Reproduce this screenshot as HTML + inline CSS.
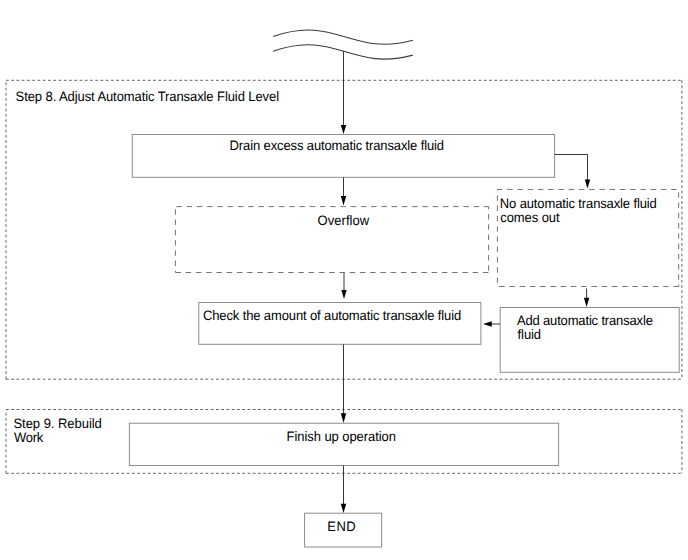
<!DOCTYPE html>
<html><head><meta charset="utf-8">
<style>
html,body{margin:0;padding:0;background:#fff;}
body{width:688px;height:560px;position:relative;overflow:hidden;}
svg{position:absolute;left:0;top:0;}
text{font-family:"Liberation Sans",sans-serif;font-size:13px;fill:#000;text-rendering:geometricPrecision;}
</style></head><body>
<svg width="688" height="560" viewBox="0 0 688 560">
<g fill="none" stroke="#3a3a3a" stroke-width="1.1">
<path d="M273.14,36.49 C335.8,14.48 351.16,56.96 412.88,40.33"/>
<path d="M273.14,51.29 C335.8,29.28 351.16,71.76 412.88,55.13"/>
</g>
<g fill="none" stroke="#646464" stroke-width="1" stroke-dasharray="2.8 2.45"><path d="M6.0,80.3 H681.9" stroke-dashoffset="0"/><path d="M681.9,80.3 V379.2" stroke-dashoffset="0"/><path d="M6.0,379.2 H681.9" stroke-dashoffset="0"/><path d="M6.0,379.2 V80.3" stroke-dashoffset="0"/></g>
<g fill="none" stroke="#646464" stroke-width="1" stroke-dasharray="2.8 2.45"><path d="M6.0,409.5 H681.9" stroke-dashoffset="0"/><path d="M681.9,409.5 V473.3" stroke-dashoffset="0"/><path d="M6.0,473.3 H681.9" stroke-dashoffset="0"/><path d="M6.0,473.3 V409.5" stroke-dashoffset="0"/></g>
<g fill="none" stroke="#747474" stroke-width="1" stroke-dasharray="5.5 4.75"><path d="M175.4,206.6 H488.6" stroke-dashoffset="-1.0"/><path d="M488.6,206.6 V272.5" stroke-dashoffset="-7.4"/><path d="M175.4,272.5 H488.6" stroke-dashoffset="0"/><path d="M175.4,206.6 V272.5" stroke-dashoffset="-2.7"/></g>
<g fill="none" stroke="#747474" stroke-width="1" stroke-dasharray="5.5 4.75"><path d="M497.4,189.45 H678.7" stroke-dashoffset="0.5"/><path d="M678.7,189.45 V286.5" stroke-dashoffset="-2.85"/><path d="M497.4,286.5 H678.7" stroke-dashoffset="-1.75"/><path d="M497.4,189.45 V286.5" stroke-dashoffset="-5.95"/></g>
<g fill="none" stroke="#8c8c8c" stroke-width="1">
<rect x="132.3" y="134.5" width="422.3" height="42.8"/>
<rect x="198.8" y="302.5" width="282.1" height="41.8"/>
<rect x="500.2" y="307.5" width="179" height="64.8"/>
<rect x="129.4" y="423.2" width="429.2" height="42.3"/>
<rect x="304.6" y="513.2" width="77" height="33.8"/>
</g>
<g fill="none" stroke="#383838" stroke-width="1">
<path d="M343.5,51 V126"/>
<path d="M343.5,177.3 V197"/>
<path d="M344,272.5 V291"/>
<path d="M554.7,154.5 H587.5 V180"/>
<path d="M586.6,288.4 V298.5"/>
<path d="M500,324 H491"/>
<path d="M343.5,344.3 V414"/>
<path d="M343.5,465.5 V504.5"/>
</g>
<g fill="#000" stroke="none">
<path d="M340.8,125 L346.2,125 L343.5,134 Z"/>
<path d="M340.8,196 L346.2,196 L343.5,205.5 Z"/>
<path d="M341.3,290 L346.7,290 L344,299 Z"/>
<path d="M584.8,179.4 L590.2,179.4 L587.5,188.5 Z"/>
<path d="M583.9,297.8 L589.3,297.8 L586.6,307 Z"/>
<path d="M491.7,321.3 L491.7,326.7 L483,324 Z"/>
<path d="M340.8,413.2 L346.2,413.2 L343.5,423 Z"/>
<path d="M340.8,503.7 L346.2,503.7 L343.5,513 Z"/>
</g>

<text transform="translate(15.57,100.60) scale(1,1.05)" textLength="263.46" lengthAdjust="spacing">Step 8. Adjust Automatic Transaxle Fluid Level</text>
<text transform="translate(229.61,149.50) scale(1,1.05)" textLength="214.46" lengthAdjust="spacing">Drain excess automatic transaxle fluid</text>
<text transform="translate(317.57,224.50) scale(1,1.05)" textLength="51.67" lengthAdjust="spacing">Overflow</text>
<text transform="translate(499.82,207.70) scale(1,1.05)" textLength="156.96" lengthAdjust="spacing">No automatic transaxle fluid</text>
<text transform="translate(500.35,221.70) scale(1,1.05)" textLength="59.17" lengthAdjust="spacing">comes out</text>
<text transform="translate(203.02,319.70) scale(1,1.05)" textLength="258.13" lengthAdjust="spacing">Check the amount of automatic transaxle fluid</text>
<text transform="translate(516.91,325.20) scale(1,1.05)" textLength="135.97" lengthAdjust="spacing">Add automatic transaxle</text>
<text transform="translate(517.58,339.20) scale(1,1.05)" textLength="23.50" lengthAdjust="spacing">fluid</text>
<text transform="translate(13.46,427.70) scale(1,1.05)" textLength="88.40" lengthAdjust="spacing">Step 9. Rebuild</text>
<text transform="translate(14.12,441.50) scale(1,1.05)" textLength="29.04" lengthAdjust="spacing">Work</text>
<text transform="translate(286.56,440.70) scale(1,1.05)" textLength="109.46" lengthAdjust="spacing">Finish up operation</text>
<text transform="translate(327.18,530.80) scale(1,1.05)" textLength="28.57" lengthAdjust="spacing">END</text>
</svg>
</body></html>
